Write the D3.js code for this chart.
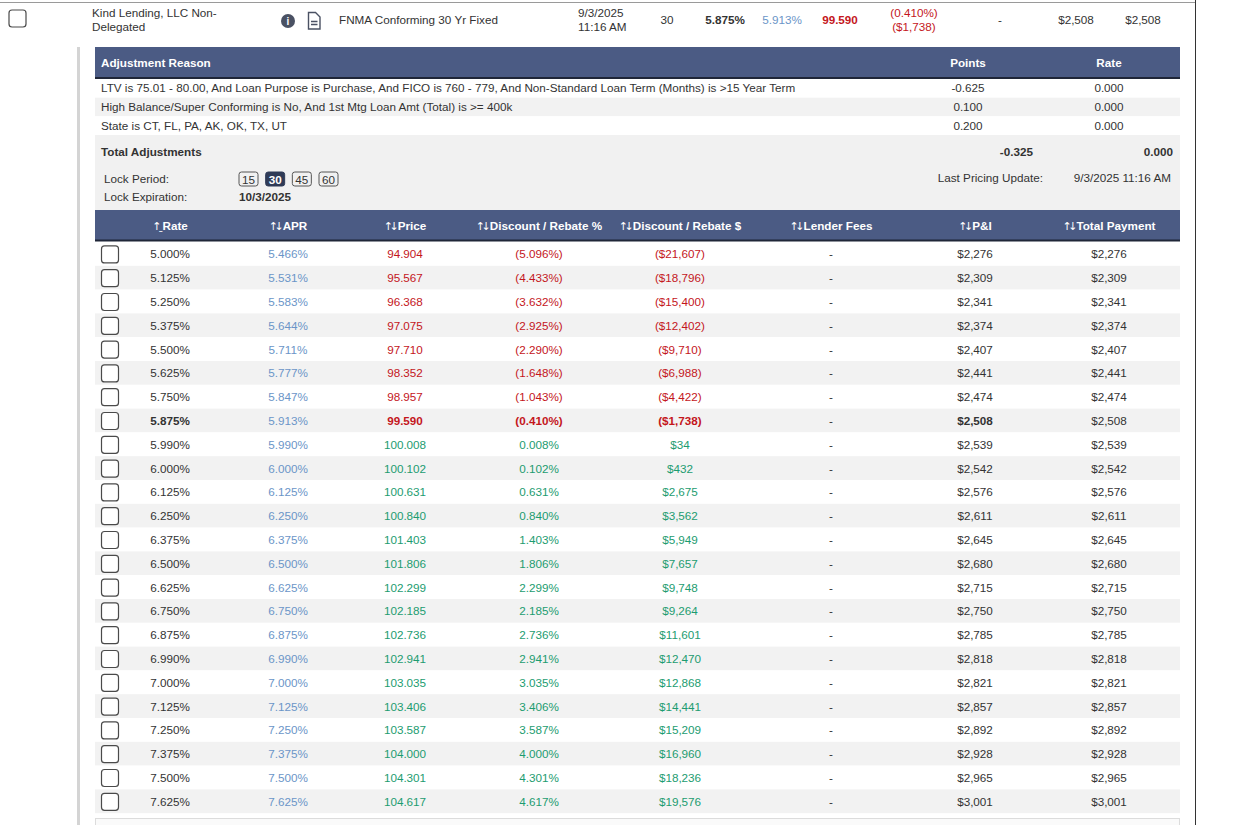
<!DOCTYPE html>
<html>
<head>
<meta charset="utf-8">
<script src="https://cdn.jsdelivr.net/npm/d3@7"></script>
<style>
  body { margin: 0; background: #fff; }
  svg { display: block; font-family: Arial, "Liberation Sans", sans-serif; }
</style>
</head>
<body>
<svg width="1237" height="825"></svg>
<script>
// ---- data ----
var summary = ["Kind Lending, LLC Non-", "Delegated"];
var product = "FNMA Conforming 30 Yr Fixed";
var pricedAt = ["9/3/2025", "11:16 AM"];
var lockDays = [15, 30, 45, 60];
var selectedLock = 30;
var lockExpiration = "10/3/2025";
var lastUpdate = "9/3/2025 11:16 AM";

var adjReasons = [
  "LTV is 75.01 - 80.00, And Loan Purpose is Purchase, And FICO is 760 - 779, And Non-Standard Loan Term (Months) is >15 Year Term",
  "High Balance/Super Conforming is No, And 1st Mtg Loan Amt (Total) is >= 400k",
  "State is CT, FL, PA, AK, OK, TX, UT"
];
var adjPoints = [-0.625, 0.100, 0.200];
var adjRate = [0, 0, 0];
var totalPoints = -0.325;
var totalRate = 0;

var headers = ["Rate", "APR", "Price", "Discount / Rebate %", "Discount / Rebate $", "Lender Fees", "P&I", "Total Payment"];

var rates = [5.000, 5.125, 5.250, 5.375, 5.500, 5.625, 5.750, 5.875, 5.990, 6.000, 6.125, 6.250,
             6.375, 6.500, 6.625, 6.750, 6.875, 6.990, 7.000, 7.125, 7.250, 7.375, 7.500, 7.625];
var aprs = [5.466, 5.531, 5.583, 5.644, 5.711, 5.777, 5.847, 5.913, 5.990, 6.000, 6.125, 6.250,
            6.375, 6.500, 6.625, 6.750, 6.875, 6.990, 7.000, 7.125, 7.250, 7.375, 7.500, 7.625];
var prices = [94.904, 95.567, 96.368, 97.075, 97.710, 98.352, 98.957, 99.590, 100.008, 100.102, 100.631, 100.840,
              101.403, 101.806, 102.299, 102.185, 102.736, 102.941, 103.035, 103.406, 103.587, 104.000, 104.301, 104.617];
var discPct = [-5.096, -4.433, -3.632, -2.925, -2.290, -1.648, -1.043, -0.410, 0.008, 0.102, 0.631, 0.840,
               1.403, 1.806, 2.299, 2.185, 2.736, 2.941, 3.035, 3.406, 3.587, 4.000, 4.301, 4.617];
var discAmt = [-21607, -18796, -15400, -12402, -9710, -6988, -4422, -1738, 34, 432, 2675, 3562,
               5949, 7657, 9748, 9264, 11601, 12470, 12868, 14441, 15209, 16960, 18236, 19576];
var pni = [2276, 2309, 2341, 2374, 2407, 2441, 2474, 2508, 2539, 2542, 2576, 2611,
           2645, 2680, 2715, 2750, 2785, 2818, 2821, 2857, 2892, 2928, 2965, 3001];
var totalPay = pni.slice();
var selectedRate = 5.875;

// ---- formatting & colours ----
var loc = d3.formatLocale({ decimal: ".", thousands: ",", grouping: [3], currency: ["$", ""], minus: "-" });
var f3 = loc.format(".3f"), money = loc.format("$,.0f");
function pct(v) { return v < 0 ? "(" + f3(-v) + "%)" : f3(v) + "%"; }
function dollars(v) { return v < 0 ? "(" + money(-v) + ")" : money(v); }
var RED = "#c4161c", GREEN = "#1c9c70", BLUE = "#6b95c8", INK = "#333", HEAD = "#4b5b84";
var FS = 11.7;
function sign(v) { return v < 0 ? RED : GREEN; }

var svg = d3.select("svg");

// frame lines
svg.append("line").attr("x1", 0).attr("x2", 1196).attr("y1", 2.5).attr("y2", 2.5).attr("stroke", "#9a9a9a");
svg.append("line").attr("x1", 1195.5).attr("x2", 1195.5).attr("y1", 0).attr("y2", 825).attr("stroke", "#333");
svg.append("rect").attr("x", 77).attr("y", 47).attr("width", 3).attr("height", 778).attr("fill", "#d4d4d4");

function checkbox(g, x, y) {
  g.append("rect").attr("x", x).attr("y", y).attr("width", 17).attr("height", 17).attr("rx", 3)
    .attr("fill", "#fff").attr("stroke", "#4a4a4a").attr("stroke-width", 1.2);
}
function label(g, x, y, t, o) {
  o = o || {};
  return g.append("text").attr("x", x).attr("y", y).attr("dy", "0.35em").text(t)
    .attr("font-size", o.size || FS).attr("fill", o.fill || INK)
    .attr("font-weight", o.bold ? "bold" : null).attr("text-anchor", o.anchor || "start");
}

// ---- summary row ----
var head = svg.append("g");
checkbox(head, 9, 10);
label(head, 92, 13, summary[0]);
label(head, 92, 26.5, summary[1]);
head.append("circle").attr("cx", 288).attr("cy", 21).attr("r", 7).attr("fill", "#4a5163");
label(head, 288, 21.5, "i", { fill: "#fff", bold: true, anchor: "middle", size: 10 });
head.append("path").attr("d", "M308.5,12.5 h7 l4.5,4.5 v12 h-11.5 z").attr("fill", "none").attr("stroke", "#4a5163").attr("stroke-width", 1.4);
head.append("path").attr("d", "M311,21.5 h6.5 M311,24.5 h6.5").attr("stroke", "#4a5163").attr("stroke-width", 1.3);
label(head, 339, 20, product);
label(head, 578, 13, pricedAt[0]);
label(head, 578, 26.5, pricedAt[1]);
var si = rates.indexOf(selectedRate);
label(head, 667, 20, selectedLock, { anchor: "middle" });
label(head, 725, 20, pct(rates[si]), { anchor: "middle", bold: true });
label(head, 782, 20, pct(aprs[si]), { anchor: "middle", fill: BLUE });
label(head, 840, 20, f3(prices[si]), { anchor: "middle", bold: true, fill: RED });
label(head, 914, 13, pct(discPct[si]), { anchor: "middle", fill: RED });
label(head, 914, 26.5, dollars(discAmt[si]), { anchor: "middle", fill: RED });
label(head, 1000, 20, "-", { anchor: "middle" });
label(head, 1076, 20, money(pni[si]), { anchor: "middle" });
label(head, 1143, 20, money(totalPay[si]), { anchor: "middle" });

// ---- adjustments panel ----
var X0 = 95, X1 = 1180;
var adj = svg.append("g");
adj.append("rect").attr("x", X0).attr("y", 47).attr("width", X1 - X0).attr("height", 31).attr("fill", HEAD);
adj.append("rect").attr("x", X0).attr("y", 77).attr("width", X1 - X0).attr("height", 2).attr("fill", "#1f2638");
label(adj, 101, 62.5, "Adjustment Reason", { fill: "#fff", bold: true });
label(adj, 968, 62.5, "Points", { fill: "#fff", bold: true, anchor: "middle" });
label(adj, 1109, 62.5, "Rate", { fill: "#fff", bold: true, anchor: "middle" });

var adjY = d3.scaleBand().domain(d3.range(adjReasons.length)).range([79, 135]);
adj.selectAll(".adj").data(adjReasons).join("g").each(function (d, i) {
  var g = d3.select(this), y = adjY(i), c = y + adjY.bandwidth() / 2;
  g.append("rect").attr("x", X0).attr("y", y).attr("width", X1 - X0).attr("height", adjY.bandwidth())
    .attr("fill", i % 2 ? "#f2f2f2" : "#fff");
  label(g, 101, c, d);
  label(g, 968, c, f3(adjPoints[i]), { anchor: "middle" });
  label(g, 1109, c, f3(adjRate[i]), { anchor: "middle" });
});

adj.append("rect").attr("x", X0).attr("y", 135).attr("width", X1 - X0).attr("height", 75).attr("fill", "#f1f1f1");
label(adj, 101, 151.5, "Total Adjustments", { bold: true });
label(adj, 1033, 151.5, f3(totalPoints), { bold: true, anchor: "end" });
label(adj, 1173, 151.5, f3(totalRate), { bold: true, anchor: "end" });
label(adj, 104, 179, "Lock Period:");
label(adj, 104, 197, "Lock Expiration:");
label(adj, 239, 197, lockExpiration, { bold: true });
label(adj, 1043, 178, "Last Pricing Update:", { anchor: "end" });
label(adj, 1171, 178, lastUpdate, { anchor: "end" });

var lockX = d3.scalePoint().domain(lockDays).range([248.5, 328.5]);
adj.selectAll(".lock").data(lockDays).join("g").each(function (d) {
  var g = d3.select(this), on = d === selectedLock, x = lockX(d);
  g.append("rect").attr("x", x - 9.5).attr("y", 172).attr("width", 19).attr("height", 14).attr("rx", 2.5)
    .attr("fill", on ? "#2f3b57" : "none").attr("stroke", on ? "#2f3b57" : "#555").attr("stroke-width", 1);
  label(g, x, 179.5, d, { anchor: "middle", fill: on ? "#fff" : INK, bold: on });
});

// ---- rate table ----
var colX = d3.scaleOrdinal().domain(headers).range([170, 288, 405, 539, 680, 831, 975, 1109]);
var tbl = svg.append("g");
tbl.append("rect").attr("x", X0).attr("y", 210).attr("width", X1 - X0).attr("height", 30).attr("fill", HEAD);
tbl.append("rect").attr("x", X0).attr("y", 239.5).attr("width", X1 - X0).attr("height", 2).attr("fill", "#1f2638");
headers.forEach(function (h, i) {
  var t = tbl.append("text").attr("x", colX(h)).attr("y", 225.5).attr("dy", "0.35em")
    .attr("text-anchor", "middle").attr("fill", "#fff").attr("font-size", FS).attr("font-weight", "bold");
  t.append("tspan").attr("font-size", 11).attr("font-weight", "normal").attr("letter-spacing", -3.5)
    .attr("font-family", "DejaVu Sans")
    .text(i === 0 ? "\u2191\u02cd" : "\u2191\u2193");
  t.append("tspan").attr("dx", 2.5).text(h);
});

var rowY = d3.scaleBand().domain(rates).range([242, 242 + 24 * 23.8]);
var rows = tbl.selectAll(".row").data(rates).join("g");
rows.each(function (r, i) {
  var g = d3.select(this), y = rowY(r), c = y + rowY.bandwidth() / 2 + 0.5, sel = r === selectedRate;
  g.append("rect").attr("x", X0).attr("y", y).attr("width", X1 - X0).attr("height", rowY.bandwidth())
    .attr("fill", i % 2 ? "#f2f2f2" : "#fff");
  checkbox(g, 101.5, c - 8.5);
  label(g, colX("Rate"), c, pct(r), { anchor: "middle", bold: sel });
  label(g, colX("APR"), c, pct(aprs[i]), { anchor: "middle", fill: BLUE });
  label(g, colX("Price"), c, f3(prices[i]), { anchor: "middle", fill: sign(discPct[i]), bold: sel });
  label(g, colX("Discount / Rebate %"), c, pct(discPct[i]), { anchor: "middle", fill: sign(discPct[i]), bold: sel });
  label(g, colX("Discount / Rebate $"), c, dollars(discAmt[i]), { anchor: "middle", fill: sign(discAmt[i]), bold: sel });
  label(g, colX("Lender Fees"), c, "-", { anchor: "middle" });
  label(g, colX("P&I"), c, money(pni[i]), { anchor: "middle", bold: sel });
  label(g, colX("Total Payment"), c, money(totalPay[i]), { anchor: "middle" });
});

// next panel peeking in at the bottom
svg.append("rect").attr("x", X0 + 0.5).attr("y", 818.5).attr("width", X1 - X0 - 1).attr("height", 20)
  .attr("fill", "#fafafa").attr("stroke", "#dcdcdc");
</script>
</body>
</html>
